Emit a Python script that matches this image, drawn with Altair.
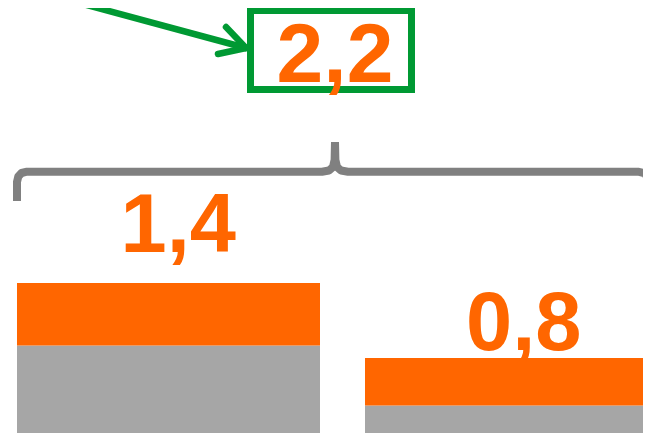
import altair as alt
import pandas as pd

# ---- data ----
categories = ["A", "B"]
gray_values = [0.9, 0.42]
orange_values = [0.5, 0.38]

ORANGE = "#FF6600"
GRAY = "#A6A6A6"
GREEN = "#009933"
BRACE = "#808080"


def fmt(v):
    return f"{v:.1f}".replace(".", ",")


totals = [g + o for g, o in zip(gray_values, orange_values)]
grand_total = sum(totals)

rows = []
for c, g, o in zip(categories, gray_values, orange_values):
    rows.append({"cat": c, "seg": "gray", "y0": 0, "y1": g})
    rows.append({"cat": c, "seg": "orange", "y0": g, "y1": g + o})
bar_df = pd.DataFrame(rows)
label_df = pd.DataFrame({"cat": categories, "total": totals,
                         "text": [fmt(t) for t in totals]})

W, H = 635, 425

# ---- scales ----
xband = alt.Scale(domain=categories, range=[0, 669], paddingInner=0.1293, paddingOuter=0.02586)
yval = alt.Scale(domain=[0.2, 3.6], nice=False, zero=False)
xpx = alt.Scale(domain=[8, 8 + W], range=[0, W], nice=False, zero=False)
ypx = alt.Scale(domain=[8, 8 + H], range=[0, H], nice=False, zero=False)

bars = alt.Chart(bar_df).mark_bar(clip=True).encode(
    x=alt.X("cat:N", scale=xband, axis=None),
    y=alt.Y("y0:Q", scale=yval, axis=None),
    y2="y1:Q",
    color=alt.Color("seg:N", scale=alt.Scale(domain=["gray", "orange"], range=[GRAY, ORANGE]), legend=None),
)

def bar_label(cat, dx, dy):
    return alt.Chart(label_df).transform_filter(alt.datum.cat == cat).mark_text(
        font="Liberation Sans", fontWeight="bold", fontSize=83, color=ORANGE,
        align="center", baseline="alphabetic", dx=dx, dy=dy,
    ).encode(
        x=alt.X("cat:N", scale=xband, axis=None),
        y=alt.Y("total:Q", scale=yval, axis=None),
        text="text:N",
    )

lab1 = bar_label("A", 3, -31)
lab2 = bar_label("B", 14, -8)

# ---- annotations (page pixel coordinates) ----
brace_df = pd.DataFrame({
    "part": ["L"] * 10 + ["R"] * 10,
    "i": list(range(10)) + list(range(10)),
    "px": [17, 17, 18.3, 21.5, 27, 322, 329, 333, 334.6, 335,
           335, 335.4, 337, 341, 348, 638, 644, 647.5, 649, 649],
    "py": [201, 182, 176.5, 173, 171.7, 171.7, 170.5, 167, 160, 142,
           142, 160, 167, 170.5, 171.7, 171.7, 173, 176.5, 182, 202],
})
brace = alt.Chart(brace_df).mark_line(color=BRACE, strokeWidth=8, strokeCap="butt",
                                      strokeJoin="round", clip=True).encode(
    x=alt.X("px:Q", scale=xpx, axis=None),
    y=alt.Y("py:Q", scale=ypx, axis=None),
    detail="part:N",
    order="i:Q",
)

arrow_line_df = pd.DataFrame({"x": [20], "y": [-13], "x2": [246], "y2": [48]})
arrow_line = alt.Chart(arrow_line_df).mark_rule(color=GREEN, strokeWidth=6.5, clip=True).encode(
    x=alt.X("x:Q", scale=xpx, axis=None), y=alt.Y("y:Q", scale=ypx, axis=None),
    x2="x2:Q", y2="y2:Q",
)
head_df = pd.DataFrame({"x": [246, 246], "y": [48, 48], "x2": [226, 218], "y2": [27, 54]})
arrow_head = alt.Chart(head_df).mark_rule(color=GREEN, strokeWidth=6.5, strokeCap="round").encode(
    x=alt.X("x:Q", scale=xpx, axis=None), y=alt.Y("y:Q", scale=ypx, axis=None),
    x2="x2:Q", y2="y2:Q",
)

box_df = pd.DataFrame({"x": [250.5], "x2": [411.5], "y": [10.5], "y2": [89.5]})
box = alt.Chart(box_df).mark_rect(fill="white", fillOpacity=0, stroke=GREEN, strokeWidth=7).encode(
    x=alt.X("x:Q", scale=xpx, axis=None), y=alt.Y("y:Q", scale=ypx, axis=None),
    x2="x2:Q", y2="y2:Q",
)

total_df = pd.DataFrame({"x": [335], "y": [82], "text": [fmt(grand_total)]})
total_text = alt.Chart(total_df).mark_text(
    font="Liberation Sans", fontWeight="bold", fontSize=84, color=ORANGE,
    align="center", baseline="alphabetic",
).encode(
    x=alt.X("x:Q", scale=xpx, axis=None), y=alt.Y("y:Q", scale=ypx, axis=None),
    text="text:N",
)

chart = alt.layer(
    bars, lab1, lab2, brace, arrow_line, arrow_head, box, total_text
).resolve_scale(
    x="independent", y="independent", color="independent"
).properties(
    width=W, height=H, padding=0,
    autosize=alt.AutoSizeParams(type="none"),
    background="white",
).configure_view(stroke=None)

chart.save("out.html", embed_options={"renderer": "svg", "actions": False})
